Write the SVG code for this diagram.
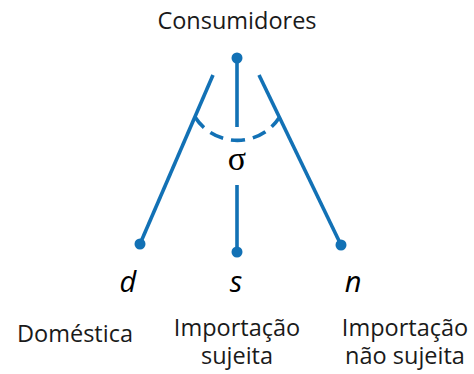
<svg xmlns="http://www.w3.org/2000/svg" width="474" height="374" viewBox="0 0 474 374">
<style>
.ln{stroke:#1271b5;stroke-width:3.6;fill:none;stroke-linecap:butt}
.dot{fill:#1271b5}
.lbl{font-family:"Open Sans","Noto Sans",sans-serif;font-size:23.5px;fill:#1a1a1a;text-anchor:middle}
.var{font-family:"Open Sans","Noto Sans",sans-serif;font-style:italic;font-size:29px;fill:#000;text-anchor:middle}
</style>
<rect width="474" height="374" fill="#fff"/>
<g id="connectors">
<line class="ln" x1="213" y1="75" x2="140" y2="244"/>
<line class="ln" x1="259" y1="75" x2="341" y2="245"/>
<line class="ln" x1="237" y1="58" x2="237" y2="127"/>
<line class="ln" x1="237" y1="185" x2="237" y2="252"/>
<path class="ln" d="M195,117 A50,50 0 0,0 279,118" stroke-dasharray="14,8"/>
</g>
<g id="consumidores">
<circle class="dot" cx="237" cy="58" r="5.5"/>
<text class="lbl" x="237" y="29">Consumidores</text>
</g>
<g id="sigma">
<text x="237" y="170" font-family="Liberation Serif,serif" font-size="34" text-anchor="middle" fill="#000">σ</text>
</g>
<g id="d">
<circle class="dot" cx="140" cy="244" r="5.5"/>
<text class="var" x="128" y="292">d</text>
<text class="lbl" x="75" y="342">Doméstica</text>
</g>
<g id="s">
<circle class="dot" cx="237" cy="252" r="5.5"/>
<text class="var" x="236" y="292">s</text>
<text class="lbl" x="237" y="336">Importação</text>
<text class="lbl" x="237" y="364">sujeita</text>
</g>
<g id="n">
<circle class="dot" cx="341" cy="245" r="5.5"/>
<text class="var" x="353" y="292">n</text>
<text class="lbl" x="405" y="336">Importação</text>
<text class="lbl" x="405" y="364">não sujeita</text>
</g>
</svg>
